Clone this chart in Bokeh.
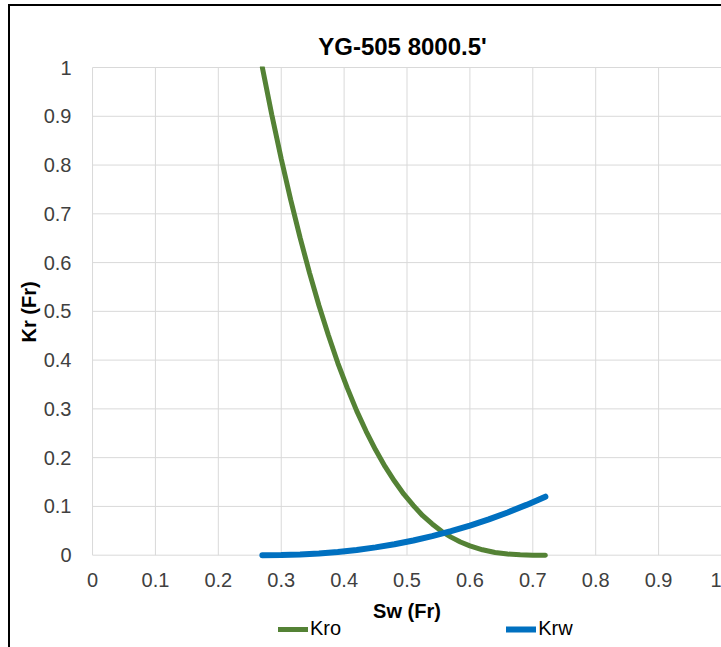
from bokeh.plotting import figure
from bokeh.models import Legend, LegendItem, FixedTicker, Range1d, LinearAxis, Title
from bokeh.embed import file_html
from bokeh.resources import INLINE

# ---- data ----
sw_kro = [0.27, 0.285, 0.30, 0.315, 0.33, 0.345, 0.36, 0.375, 0.39, 0.405, 0.42,
          0.435, 0.45, 0.465, 0.48, 0.495, 0.51, 0.525, 0.54, 0.555, 0.57, 0.585,
          0.60, 0.62, 0.64, 0.66, 0.68, 0.70, 0.72]
kro = [1.0, 0.903, 0.813, 0.729, 0.651, 0.579, 0.512, 0.451, 0.394, 0.343, 0.296,
       0.254, 0.216, 0.182, 0.152, 0.125, 0.102, 0.081, 0.064, 0.049, 0.037, 0.027,
       0.019, 0.011, 0.0056, 0.0024, 0.0007, 0.0001, 0.0]

sw_krw = [0.27, 0.30, 0.33, 0.36, 0.39, 0.42, 0.45, 0.48, 0.51, 0.54, 0.57,
          0.60, 0.63, 0.66, 0.69, 0.72]
krw = [0.0, 0.0003, 0.0014, 0.0035, 0.0066, 0.0107, 0.016, 0.0224, 0.0301, 0.039,
       0.0492, 0.0607, 0.0734, 0.0876, 0.1031, 0.12]

tick_values = [0, 0.1, 0.2, 0.3, 0.4, 0.5, 0.6, 0.7, 0.8, 0.9, 1]
tick_labels = ["0", "0.1", "0.2", "0.3", "0.4", "0.5", "0.6", "0.7", "0.8", "0.9", "1"]

title_text = "YG-505 8000.5'"
x_label = "Sw (Fr)"
y_label = "Kr (Fr)"
series_names = ["Kro", "Krw"]
series_colors = ["#548235", "#0070C0"]

FONT = "Liberation Sans"
GRID = "#d9d9d9"

lo, hi = tick_values[0], tick_values[-1]
# drawing area: values 0..1 fill the chart box; extra room left/below holds
# the x-axis texts and the legend
p = figure(width=713, height=643, output_backend="svg", toolbar_location=None,
           x_range=Range1d(lo - 0.01595, hi + 0.0016),
           y_range=Range1d(lo - 0.1893, hi + 0.0021),
           min_border_left=72, min_border_right=1, min_border_top=60, min_border_bottom=2,
           x_axis_type=None)
p.styles = {"margin-left": "8px", "margin-top": "4px",
            "border-left": "2px solid black", "border-top": "2px solid black"}
p.background_fill_color = "white"
p.border_fill_color = "white"
p.outline_line_color = None
p.grid.visible = False

p.title.text = title_text
p.title.align = "center"
p.title.text_font = FONT
p.title.text_font_size = "24px"
p.title.text_font_style = "bold"
p.title.text_color = "black"
p.title.standoff = 14
p.title.offset = -3

ticker = FixedTicker(ticks=tick_values)
overrides = {v: l for v, l in zip(tick_values, tick_labels)}

xaxis = LinearAxis(fixed_location=lo, bounds=(lo, hi))
p.add_layout(xaxis, "below")

for ax in (xaxis, p.yaxis[0]):
    ax.ticker = ticker
    ax.major_label_overrides = overrides
    ax.axis_line_color = None
    ax.major_tick_line_color = None
    ax.minor_tick_line_color = None
    ax.major_label_text_font = FONT
    ax.major_label_text_font_size = "20px"
    ax.major_label_text_color = "#404040"
    ax.axis_label_text_font = FONT
    ax.axis_label_text_font_size = "20px"
    ax.axis_label_text_font_style = "bold"
    ax.axis_label_text_color = "black"

p.yaxis.bounds = (lo, hi)
xaxis.axis_label = x_label
xaxis.major_label_standoff = 12
xaxis.axis_label_standoff = 9
p.yaxis.major_label_standoff = 5

# y-axis title, placed along the 0..1 box
ytitle = Title(text=y_label, align="left", offset=305, vertical_align="middle",
               standoff=0, text_font=FONT, text_font_size="20px",
               text_font_style="bold", text_color="black")
p.add_layout(ytitle, "left")

# grid lines limited to the 0..1 box
n = len(tick_values)
p.segment(x0=[lo] * n, y0=tick_values, x1=[hi] * n, y1=tick_values,
          line_color=GRID, line_width=1)
p.segment(x0=tick_values, y0=[lo] * n, x1=tick_values, y1=[hi] * n,
          line_color=GRID, line_width=1)

r1 = p.line(sw_kro, kro, line_color=series_colors[0], line_width=5, line_cap="round")
r2 = p.line(sw_krw, krw, line_color=series_colors[1], line_width=6, line_cap="round")

legend = Legend(items=[LegendItem(label=series_names[0], renderers=[r1]),
                       LegendItem(label=series_names[1], renderers=[r2])],
                orientation="horizontal", location=(196, 7),
                spacing=165, glyph_width=30, glyph_height=20, label_standoff=2,
                padding=0, margin=0, border_line_color=None, background_fill_alpha=0,
                label_text_font=FONT, label_text_font_size="20px", label_text_color="black")
p.add_layout(legend, "center")

open("out.html", "w").write(file_html(p, INLINE))
